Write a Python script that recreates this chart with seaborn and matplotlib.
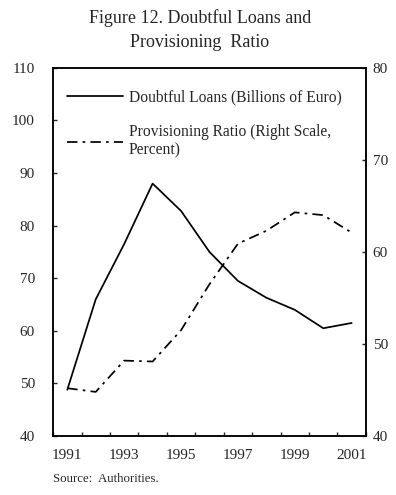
import matplotlib
matplotlib.use("Agg")
import matplotlib.pyplot as plt
import seaborn as sns
import pandas as pd

years = [1991, 1992, 1993, 1994, 1995, 1996, 1997, 1998, 1999, 2000, 2001]
doubtful_loans = [48.8, 66.0, 76.5, 88.0, 82.8, 75.0, 69.5, 66.3, 64.0, 60.5, 61.5]
provisioning_ratio = [45.2, 44.8, 48.2, 48.1, 51.5, 56.5, 60.9, 62.3, 64.3, 64.0, 62.1]
left_ticks = [40, 50, 60, 70, 80, 90, 100, 110]
right_ticks = [40, 50, 60, 70, 80]
year_labels = [1991, 1993, 1995, 1997, 1999, 2001]

sns.set_theme(style="white")
plt.rcParams['font.family'] = ['Liberation Serif', 'DejaVu Serif']

df = pd.DataFrame({"year": years, "loans": doubtful_loans, "ratio": provisioning_ratio})

fig = plt.figure(figsize=(3.96, 4.95), dpi=100)
ax = fig.add_axes([0.134, 0.119, 0.790, 0.744])
ax2 = ax.twinx()

sns.lineplot(data=df, x="year", y="loans", ax=ax, color="black", linewidth=1.25,
             label="Doubtful Loans (Billions of Euro)", legend=False)
sns.lineplot(data=df, x="year", y="ratio", ax=ax2, color="black", linewidth=1.25,
             label="Provisioning Ratio (Right Scale,\nPercent)", legend=False)
ax2.lines[0].set_dashes([6, 3, 1.5, 3])

ax.set_xlim(1990.5, 2001.5)
ax.set_ylim(40, 110)
ax2.set_ylim(40, 80)
ax.set_yticks(left_ticks)
ax2.set_yticks(right_ticks)
ax.set_xticks(year_labels)
ax.set_xticklabels([str(y) for y in year_labels])
ax.set_xticks([y - 0.5 for y in years] + [2001.5], minor=True)
ax.tick_params(axis="x", which="major", length=0, pad=9, labelsize=11)
ax.tick_params(axis="x", which="minor", direction="in", length=3, width=1, bottom=True)
ax.tick_params(axis="y", direction="in", length=3, width=1, left=True, labelsize=11, pad=13)
ax2.tick_params(axis="y", direction="in", length=3, width=1, right=True, labelsize=11, pad=5)
ax.set_xlabel("")
ax.set_ylabel("")
ax2.set_ylabel("")
for a in (ax, ax2):
    for s in a.spines.values():
        s.set_color("black")
        s.set_linewidth(1.1)

h1, l1 = ax.get_legend_handles_labels()
h2, l2 = ax2.get_legend_handles_labels()
leg = ax2.legend(h1 + h2, l1 + l2, loc="upper left", bbox_to_anchor=(0.01, 0.97),
                 frameon=False, fontsize=11.2, handlelength=3.6, handletextpad=0.35,
                 labelspacing=1.2, borderaxespad=0.3)

fig.text(0.505, 0.964, "Figure 12. Doubtful Loans and", ha="center", va="center", fontsize=13)
fig.text(0.505, 0.914, "Provisioning  Ratio", ha="center", va="center", fontsize=13)
fig.text(0.134, 0.032, "Source:  Authorities.", ha="left", va="center", fontsize=9.3)

fig.savefig("out.png", dpi=100)
